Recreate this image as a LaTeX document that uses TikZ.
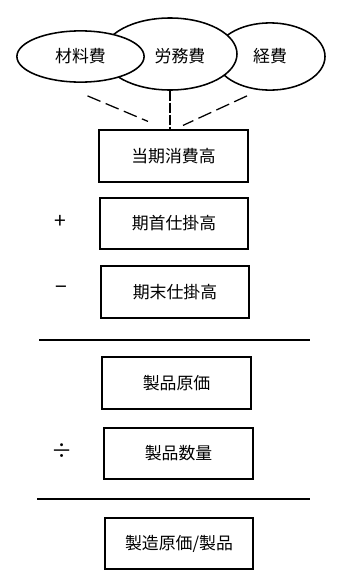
\documentclass[tikz,border=0pt]{standalone}
\usepackage{fontspec}
\setmainfont{Noto Sans CJK JP}
\usepackage{tikz}
\usetikzlibrary{positioning,shapes.geometric,calc}

\begin{document}
\begin{tikzpicture}[x=0.025cm,y=-0.025cm,
  font=\fontsize{12pt}{14pt}\selectfont,
  cost/.style={ellipse,draw,fill=white,line width=1.1pt,inner sep=0pt},
  box/.style={draw,fill=white,line width=1.4pt,minimum width=3.72cm,minimum height=1.28cm,inner sep=0pt},
  link/.style={line width=0.9pt,dash pattern=on 10pt off 4pt},
  shortlink/.style={line width=0.9pt,dash pattern=on 7pt off 1.5pt},
  op/.style={font=\fontsize{15pt}{17pt}\selectfont},
  rule/.style={line width=1.2pt}]
\useasboundingbox (0,0) rectangle (340,586);
% cost elements, back to front
\node[cost,minimum width=2.75cm,minimum height=1.68cm] (kei) at (270,56.5) {経費};
\node[cost,minimum width=3.35cm,minimum height=1.8cm] (rou) at (170,54) {};
\node (rouText) at (180,56.5) {労務費};
\node[cost,minimum width=3.18cm,minimum height=1.28cm] (zai) at (80.5,56.5) {材料費};
% boxes
\foreach \name/\x/\y/\txt in {
  tou/173.5/156/当期消費高,
  shu/174/223.5/期首仕掛高,
  matsu/175/292/期末仕掛高,
  gen/176.5/383/製品原価,
  suu/178.5/453.5/製品数量}
{
  \node[box] (\name) at (\x,\y) {\txt};
}
\node[box] (tan) at (179,543.5) {製造原価/製品};
% costs to total
\draw[link] ($(zai.south)+(7,13)$) -- ($(tou.north)+(-25.5,-8)$);
\draw[shortlink] (rou.south) -- (rou.south |- tou.north);
\draw[link] ($(kei.south)+(-23,5)$) -- ($(tou.north)+(9.5,-4)$);
% operators and rules
\node[op] (plus) at (60,222) {+};
\node[op] (minus) at (61,290) {−};
\node[op] (div) at (62,451) {÷};
\draw[rule] (39,340) -- (310,340);
\draw[rule] (37,499) -- (310,499);
\end{tikzpicture}
\end{document}
